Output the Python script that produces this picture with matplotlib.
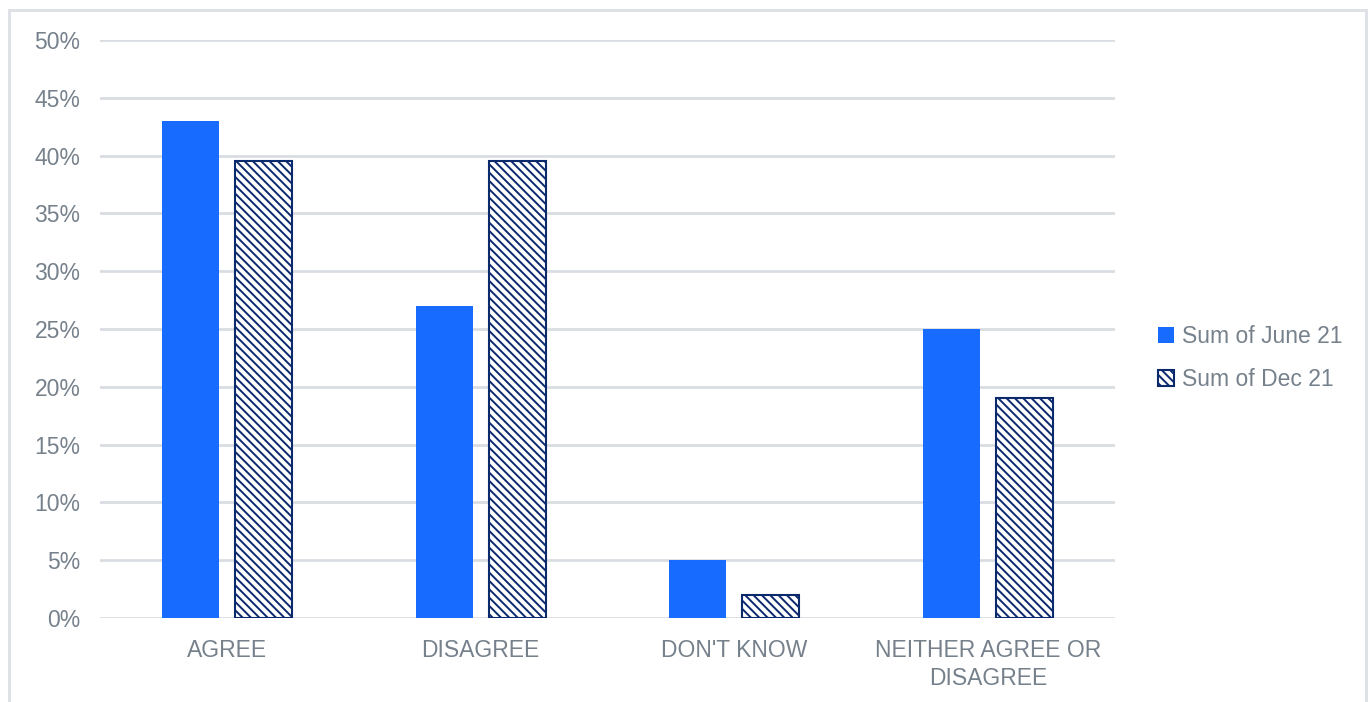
import matplotlib
matplotlib.use("Agg")
import matplotlib.pyplot as plt
import numpy as np
from matplotlib.patches import Rectangle

categories = ["AGREE", "DISAGREE", "DON'T KNOW", "NEITHER AGREE OR\nDISAGREE"]
june = [43, 27, 5, 25]
dec = [39.5, 39.5, 2, 19]
series_names = ["Sum of June 21", "Sum of Dec 21"]
yticks = [0, 5, 10, 15, 20, 25, 30, 35, 40, 45, 50]

plt.rcParams['font.family'] = ['Liberation Sans', 'DejaVu Sans']
plt.rcParams['hatch.linewidth'] = 1.4
plt.rcParams['hatch.color'] = '#0b2a6e'

text_color = '#76818c'
grid_color = '#d9dde2'
blue = '#176cff'
navy = '#0b2a6e'

fig = plt.figure(figsize=(13.69, 7.02), dpi=100)
ax = fig.add_axes([100/1369, 1-618/702, 1015/1369, 578/702])

x = np.arange(len(categories))
w = 0.225
ax.bar(x - 0.144, june, width=w, color=blue, label=series_names[0], zorder=3)
ax.bar(x + 0.144, dec, width=w, color='white', edgecolor=navy, hatch='\\\\\\\\',
       linewidth=1.5, label=series_names[1], zorder=3)

ax.set_xlim(-0.5, len(categories) - 0.5)
ax.set_ylim(0, 50)
ax.set_yticks(yticks)
ax.set_yticklabels([f"{v}%" for v in yticks])
ax.set_xticks(x)
ax.set_xticklabels(categories, linespacing=1.3)
ax.yaxis.grid(True, color=grid_color, linewidth=2, zorder=0)
ax.set_axisbelow(True)
for s in ax.spines.values():
    s.set_visible(False)
ax.tick_params(axis='both', length=0, labelsize=16.5, colors=text_color)
ax.tick_params(axis='y', pad=14)
ax.tick_params(axis='x', pad=15)

leg = fig.legend(loc='center left', bbox_to_anchor=(1137/1369, 1-358/702), frameon=False,
                 fontsize=16.5, labelcolor=text_color, handlelength=0.7, handleheight=0.7,
                 handletextpad=0.35, labelspacing=0.85)

fig.patches.append(Rectangle((9/1369, -0.05), (1366-9)/1369, 1.05 - 10/702,
                             transform=fig.transFigure, fill=False,
                             edgecolor='#dcdfe3', linewidth=2))

fig.savefig("out.png", dpi=100)
